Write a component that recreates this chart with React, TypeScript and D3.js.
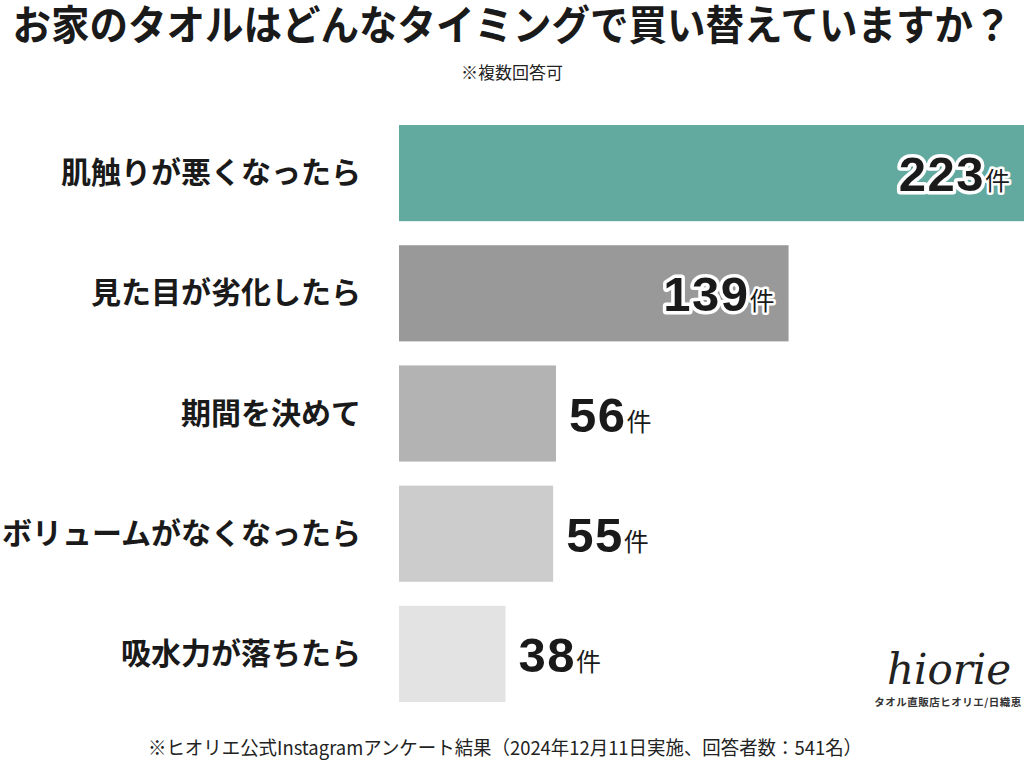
import * as d3 from "d3";

const categories = [
  "肌触りが悪くなったら",
  "見た目が劣化したら",
  "期間を決めて",
  "ボリュームがなくなったら",
  "吸水力が落ちたら",
];
const counts = [223, 139, 56, 55, 38];
const barColors = ["#62a9a0", "#999999", "#b3b3b3", "#cccccc", "#e3e3e3"];
const insideLabel = [true, true, false, false, false];

const title = "お家のタオルはどんなタイミングで買い替えていますか？";
const subtitle = "※複数回答可";
const footnote = "※ヒオリエ公式Instagramアンケート結果（2024年12月11日実施、回答者数：541名）";

const W = 1024;
const H = 770;
const FONT = "'Noto Sans CJK JP', 'Noto Sans', sans-serif";
const NUM_FONT = "'Liberation Sans', Arial, sans-serif";

export default function App() {
  const x = d3.scaleLinear().domain([0, 223]).range([399, 1024]);
  const y = d3
    .scaleBand<string>()
    .domain(categories)
    .range([113, 714])
    .paddingInner(0.2)
    .paddingOuter(0.1);

  return (
    <svg
      width={W}
      height={H}
      style={{ position: "absolute", left: 0, top: 0, display: "block", background: "#fff" }}
      fontFamily={FONT}
    >
      <text
        x={512}
        y={0}
        transform="translate(0,40) scale(1,1.07)"
        textAnchor="middle"
        fontSize={38.5}
        fontWeight={700}
        fill="#1a1a1a"
      >
        {title}
      </text>
      <text x={512} y={79} textAnchor="middle" fontSize={17} fill="#222">
        {subtitle}
      </text>

      {categories.map((c, i) => {
        const by = y(c)!;
        const bh = y.bandwidth();
        const xe = x(counts[i]);
        const cy = by + bh / 2;
        const inside = insideLabel[i];
        return (
          <g key={c}>
            <rect x={x(0)} y={by} width={xe - x(0)} height={bh} fill={barColors[i]} />
            <text
              x={361}
              y={cy + 10}
              textAnchor="end"
              fontSize={30}
              fontWeight={700}
              fill="#1a1a1a"
            >
              {c}
            </text>
            <text
              x={inside ? xe - 14 : xe + 13}
              y={cy + 18}
              textAnchor={inside ? "end" : "start"}
              fontFamily={NUM_FONT}
              fontSize={49}
              fontWeight={700}
              letterSpacing={1.5}
              fill="#1a1a1a"
              stroke={inside ? "#fff" : "none"}
              strokeWidth={inside ? 7 : 0}
              strokeLinejoin="round"
              paintOrder="stroke"
            >
              {counts[i]}
              <tspan
                fontFamily={FONT}
                fontSize={25}
                fontWeight={400}
                letterSpacing={0}
                strokeWidth={inside ? 5 : 0}
                dy={-1}
              >
                件
              </tspan>
            </text>
          </g>
        );
      })}

      <text
        x={949}
        y={684}
        textAnchor="middle"
        fontFamily="'DejaVu Serif', serif"
        fontStyle="italic"
        fontSize={42}
        fill="#222"
      >
        hiorie
      </text>
      <text x={948} y={706} textAnchor="middle" fontSize={10.5} fontWeight={700} fill="#333" letterSpacing={0.5}>
        タオル直販店ヒオリエ/日織恵
      </text>

      <text
        x={505}
        y={755}
        textAnchor="middle"
        fontSize={19}
        fill="#222"
        textLength={714}
        lengthAdjust="spacingAndGlyphs"
      >
        {footnote}
      </text>
    </svg>
  );
}
